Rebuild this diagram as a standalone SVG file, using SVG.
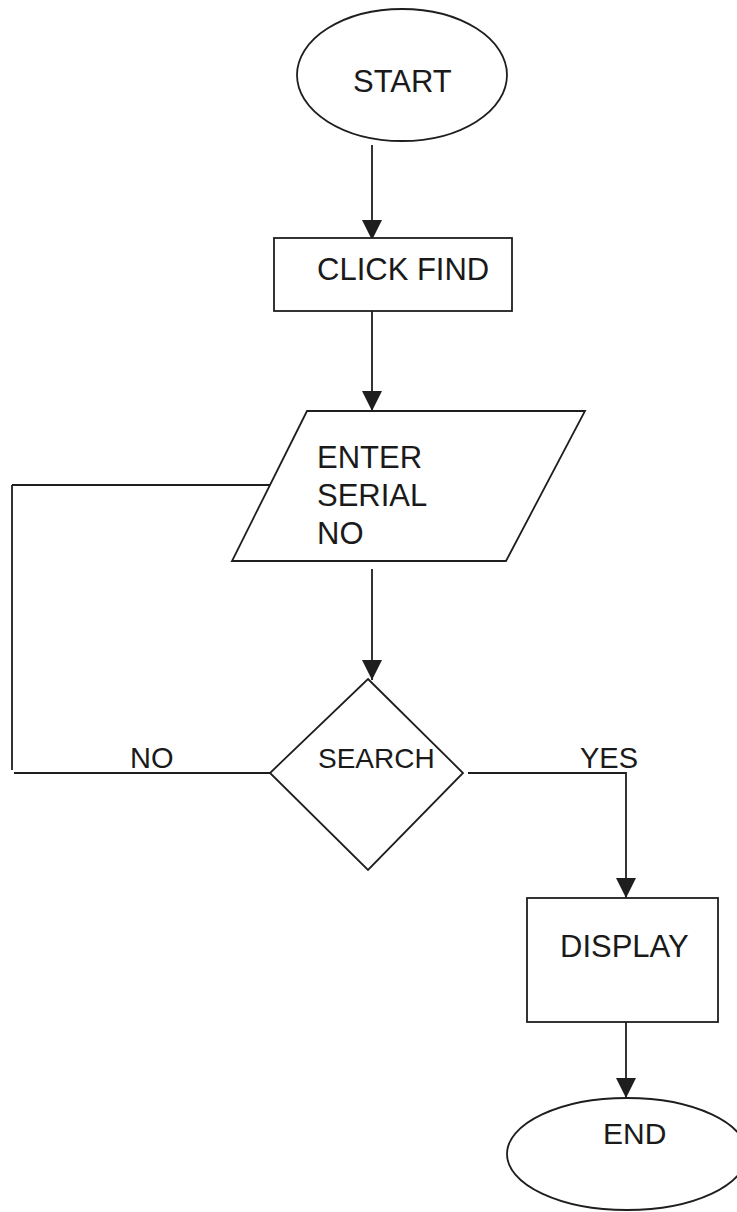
<svg xmlns="http://www.w3.org/2000/svg" width="737" height="1212" viewBox="0 0 737 1212">
  <style>
    .shape { fill: #ffffff; stroke: #1e1e1e; stroke-width: 1.8; }
    .line { fill: none; stroke: #1e1e1e; stroke-width: 1.8; }
    .label { font-family: "Liberation Sans", Arial, sans-serif; font-size: 31px; fill: #1a1a1a; }
    .branch { font-size: 29px; }
    .decision { font-size: 28px; }
    .terminal { font-size: 30px; }
  </style>
  <defs>
    <marker id="arrow" viewBox="0 0 20 20" refX="20" refY="10" markerWidth="20" markerHeight="20" markerUnits="userSpaceOnUse" orient="auto">
      <path d="M0,0 L20,10 L0,20 z" fill="#1e1e1e"/>
    </marker>
  </defs>
  <rect width="737" height="1212" fill="#ffffff"/>

  <!-- connectors -->
  <g id="connectors">
    <line class="line" x1="372" y1="145" x2="372" y2="240" marker-end="url(#arrow)"/>
    <line class="line" x1="372" y1="311" x2="372" y2="411" marker-end="url(#arrow)"/>
    <line class="line" x1="372" y1="569" x2="372" y2="680" marker-end="url(#arrow)"/>
    <!-- NO branch loops back to the input step -->
    <line class="line" x1="12" y1="485" x2="273" y2="485"/>
    <line class="line" x1="12" y1="485" x2="12" y2="770"/>
    <line class="line" x1="14" y1="773" x2="270" y2="773"/>
    <!-- YES branch -->
    <polyline class="line" points="468,773 626,773 626,898" marker-end="url(#arrow)"/>
    <line class="line" x1="626" y1="1022" x2="626" y2="1098" marker-end="url(#arrow)"/>
    <text class="label branch" x="130" y="768">NO</text>
    <text class="label branch" x="580" y="768">YES</text>
  </g>

  <g id="start">
    <ellipse class="shape" cx="402" cy="75" rx="105" ry="66"/>
    <text class="label" x="353" y="92">START</text>
  </g>

  <g id="click-find">
    <rect class="shape" x="274" y="238" width="238" height="73"/>
    <text class="label" x="317" y="280">CLICK FIND</text>
  </g>

  <g id="enter-serial">
    <polygon class="shape" points="307,411 585,411 506,561 232,561"/>
    <text class="label" x="317" y="468">ENTER</text>
    <text class="label" x="317" y="506">SERIAL</text>
    <text class="label" x="317" y="544">NO</text>
  </g>

  <g id="search">
    <polygon class="shape" points="368,679 463,773 368,870 270,773"/>
    <text class="label decision" x="318" y="768">SEARCH</text>
  </g>

  <g id="display">
    <rect class="shape" x="527" y="898" width="191" height="124"/>
    <text class="label" x="560" y="957">DISPLAY</text>
  </g>

  <g id="end">
    <ellipse class="shape" cx="627" cy="1154" rx="120" ry="56"/>
    <text class="label terminal" x="603" y="1144">END</text>
  </g>
</svg>
